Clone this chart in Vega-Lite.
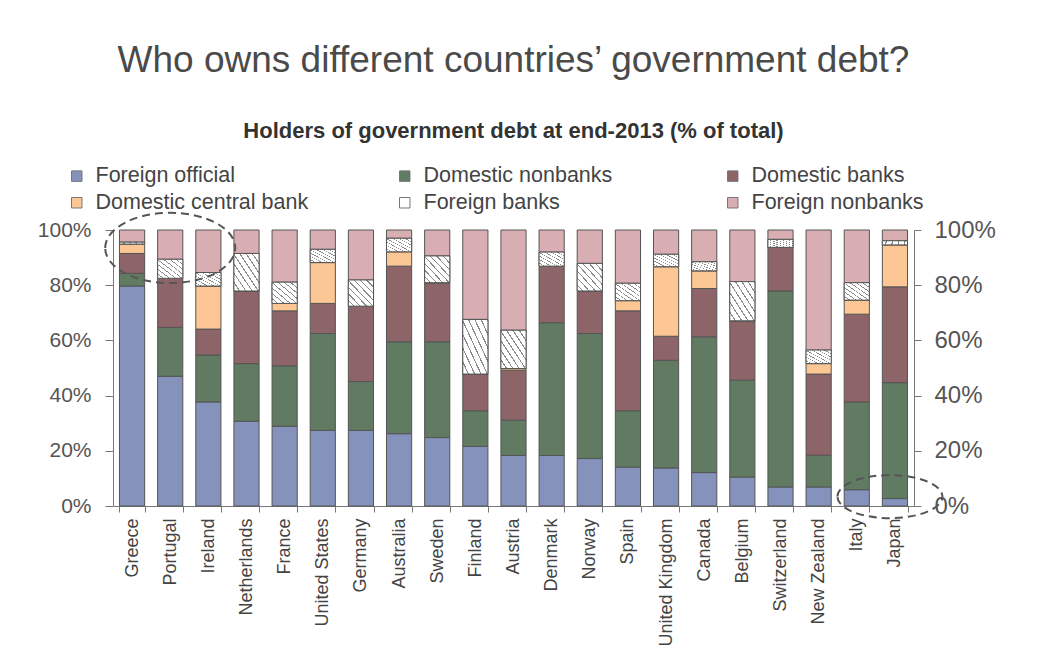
{
  "$schema": "https://vega.github.io/schema/vega-lite/v6.json",
  "autosize": {"type": "none"},
  "padding": {"left": 113, "top": 230, "right": 139, "bottom": 154},
  "width": 801,
  "height": 276,
  "background": "white",
  "title": {
    "text": "Who owns different countries’ government debt?",
    "subtitle": "Holders of government debt at end-2013 (% of total)",
    "anchor": "middle",
    "frame": "group",
    "offset": 22,
    "font": "Liberation Sans",
    "fontSize": 37,
    "fontWeight": "normal",
    "color": "#4a4a4a",
    "subtitleFont": "Liberation Sans",
    "subtitleFontSize": 22,
    "subtitleFontWeight": "bold",
    "subtitleColor": "#333333",
    "subtitlePadding": 41
  },
  "layer": [
    {
      "data": {
        "values": [
          {"country": "Greece", "Foreign official": 79.7, "Domestic nonbanks": 4.6, "Domestic banks": 7.2, "Domestic central bank": 3.4, "Foreign banks": 0.7, "Foreign nonbanks": 4.4},
          {"country": "Portugal", "Foreign official": 47.0, "Domestic nonbanks": 17.7, "Domestic banks": 17.8, "Domestic central bank": 0, "Foreign banks": 6.9, "Foreign nonbanks": 10.6},
          {"country": "Ireland", "Foreign official": 37.7, "Domestic nonbanks": 17.0, "Domestic banks": 9.4, "Domestic central bank": 15.6, "Foreign banks": 4.9, "Foreign nonbanks": 15.4},
          {"country": "Netherlands", "Foreign official": 30.7, "Domestic nonbanks": 20.9, "Domestic banks": 26.3, "Domestic central bank": 0, "Foreign banks": 13.6, "Foreign nonbanks": 8.5},
          {"country": "France", "Foreign official": 28.9, "Domestic nonbanks": 21.9, "Domestic banks": 19.9, "Domestic central bank": 2.7, "Foreign banks": 7.7, "Foreign nonbanks": 18.9},
          {"country": "United States", "Foreign official": 27.4, "Domestic nonbanks": 35.1, "Domestic banks": 10.9, "Domestic central bank": 14.8, "Foreign banks": 4.8, "Foreign nonbanks": 7.0},
          {"country": "Germany", "Foreign official": 27.4, "Domestic nonbanks": 17.7, "Domestic banks": 27.3, "Domestic central bank": 0, "Foreign banks": 9.5, "Foreign nonbanks": 18.1},
          {"country": "Australia", "Foreign official": 26.2, "Domestic nonbanks": 33.3, "Domestic banks": 27.4, "Domestic central bank": 5.2, "Foreign banks": 4.9, "Foreign nonbanks": 3.0},
          {"country": "Sweden", "Foreign official": 24.8, "Domestic nonbanks": 34.7, "Domestic banks": 21.4, "Domestic central bank": 0, "Foreign banks": 9.7, "Foreign nonbanks": 9.4},
          {"country": "Finland", "Foreign official": 21.6, "Domestic nonbanks": 12.9, "Domestic banks": 13.3, "Domestic central bank": 0, "Foreign banks": 19.8, "Foreign nonbanks": 32.4},
          {"country": "Austria", "Foreign official": 18.3, "Domestic nonbanks": 12.8, "Domestic banks": 18.1, "Domestic central bank": 0.6, "Foreign banks": 13.9, "Foreign nonbanks": 36.3},
          {"country": "Denmark", "Foreign official": 18.3, "Domestic nonbanks": 48.1, "Domestic banks": 20.5, "Domestic central bank": 0, "Foreign banks": 5.1, "Foreign nonbanks": 8.0},
          {"country": "Norway", "Foreign official": 17.2, "Domestic nonbanks": 45.3, "Domestic banks": 15.4, "Domestic central bank": 0, "Foreign banks": 10.0, "Foreign nonbanks": 12.1},
          {"country": "Spain", "Foreign official": 14.1, "Domestic nonbanks": 20.4, "Domestic banks": 36.2, "Domestic central bank": 3.7, "Foreign banks": 6.3, "Foreign nonbanks": 19.3},
          {"country": "United Kingdom", "Foreign official": 13.8, "Domestic nonbanks": 39.0, "Domestic banks": 8.7, "Domestic central bank": 25.2, "Foreign banks": 4.5, "Foreign nonbanks": 8.8},
          {"country": "Canada", "Foreign official": 12.1, "Domestic nonbanks": 49.2, "Domestic banks": 17.5, "Domestic central bank": 6.4, "Foreign banks": 3.3, "Foreign nonbanks": 11.5},
          {"country": "Belgium", "Foreign official": 10.5, "Domestic nonbanks": 35.1, "Domestic banks": 21.5, "Domestic central bank": 0, "Foreign banks": 14.2, "Foreign nonbanks": 18.7},
          {"country": "Switzerland", "Foreign official": 6.9, "Domestic nonbanks": 71.0, "Domestic banks": 15.8, "Domestic central bank": 0, "Foreign banks": 2.9, "Foreign nonbanks": 3.4},
          {"country": "New Zealand", "Foreign official": 6.9, "Domestic nonbanks": 11.5, "Domestic banks": 29.4, "Domestic central bank": 3.8, "Foreign banks": 4.9, "Foreign nonbanks": 43.5},
          {"country": "Italy", "Foreign official": 5.9, "Domestic nonbanks": 31.8, "Domestic banks": 31.8, "Domestic central bank": 5.1, "Foreign banks": 6.3, "Foreign nonbanks": 19.1},
          {"country": "Japan", "Foreign official": 2.7, "Domestic nonbanks": 42.0, "Domestic banks": 34.7, "Domestic central bank": 15.2, "Foreign banks": 1.5, "Foreign nonbanks": 3.9}
        ]
      },
      "transform": [
        {"fold": ["Foreign official", "Domestic nonbanks", "Domestic banks", "Domestic central bank", "Foreign banks", "Foreign nonbanks"], "as": ["holder", "value"]},
        {"calculate": "indexof(['Foreign official','Domestic nonbanks','Domestic banks','Domestic central bank','Foreign banks','Foreign nonbanks'], datum.holder)", "as": "ord"},
        {"stack": "value", "groupby": ["country"], "sort": [{"field": "ord", "order": "ascending"}], "as": ["y0", "y1"]}
      ],
      "layer": [
        {
          "mark": {"type": "bar", "stroke": "#555555", "strokeWidth": 1, "opacity": 1},
          "encoding": {
            "x": {
              "field": "country", "type": "nominal",
              "scale": {"domain": ["Greece", "Portugal", "Ireland", "Netherlands", "France", "United States", "Germany", "Australia", "Sweden", "Finland", "Austria", "Denmark", "Norway", "Spain", "United Kingdom", "Canada", "Belgium", "Switzerland", "New Zealand", "Italy", "Japan"], "paddingInner": 0.34, "paddingOuter": 0.17},
              "axis": {"title": null, "labelAngle": -90, "labelFont": "Liberation Sans", "labelFontSize": 18, "labelColor": "#444444", "tickBand": "extent", "tickSize": 6, "tickColor": "#777777", "domainColor": "#777777", "labelPadding": 6}
            },
            "y": {
              "field": "y0", "type": "quantitative",
              "scale": {"domain": [0, 100]},
              "axis": {"orient": "left", "title": null, "values": [0, 20, 40, 60, 80, 100], "labelExpr": "datum.value + '%'", "grid": false, "tickSize": 8, "labelPadding": 14, "labelFont": "Liberation Sans", "labelFontSize": 21, "labelColor": "#555555", "tickColor": "#777777", "domainColor": "#777777"}
            },
            "y2": {"field": "y1"},
            "color": {
              "field": "holder", "type": "nominal",
              "scale": {
                "domain": ["Foreign official", "Domestic nonbanks", "Domestic banks", "Domestic central bank", "Foreign banks", "Foreign nonbanks"],
                "range": ["#8592BB", "#607B61", "#8D6468", "#FCC794", "#FFFFFF", "#D9AEB2"]
              },
              "legend": {
                "orient": "none", "legendX": -47, "legendY": -65, "direction": "horizontal", "columns": 3,
                "title": null, "symbolType": "square", "symbolSize": 110, "symbolStrokeColor": "#777777", "symbolStrokeWidth": 1,
                "symbolOpacity": 1, "labelFont": "Liberation Sans", "labelFontSize": 21.5, "labelColor": "#444444",
                "labelOffset": 8, "columnPadding": 85, "rowPadding": 4, "gridAlign": "all", "labelLimit": 400
              }
            }
          }
        },
        {
          "transform": [{"filter": "datum.holder === 'Foreign banks'"}],
          "mark": {
            "type": "bar", "stroke": "#555555", "strokeWidth": 1,
            "color": {
              "gradient": "linear", "x1": 0, "y1": 1, "x2": 1, "y2": 0,
              "stops": [
                {"offset": 0, "color": "#ffffff"}, {"offset": 0.1, "color": "#ffffff"}, {"offset": 0.1, "color": "#8a8a8a"}, {"offset": 0.125, "color": "#8a8a8a"},
                {"offset": 0.125, "color": "#ffffff"}, {"offset": 0.225, "color": "#ffffff"}, {"offset": 0.225, "color": "#8a8a8a"}, {"offset": 0.25, "color": "#8a8a8a"},
                {"offset": 0.25, "color": "#ffffff"}, {"offset": 0.35, "color": "#ffffff"}, {"offset": 0.35, "color": "#8a8a8a"}, {"offset": 0.375, "color": "#8a8a8a"},
                {"offset": 0.375, "color": "#ffffff"}, {"offset": 0.475, "color": "#ffffff"}, {"offset": 0.475, "color": "#8a8a8a"}, {"offset": 0.5, "color": "#8a8a8a"},
                {"offset": 0.5, "color": "#ffffff"}, {"offset": 0.6, "color": "#ffffff"}, {"offset": 0.6, "color": "#8a8a8a"}, {"offset": 0.625, "color": "#8a8a8a"},
                {"offset": 0.625, "color": "#ffffff"}, {"offset": 0.725, "color": "#ffffff"}, {"offset": 0.725, "color": "#8a8a8a"}, {"offset": 0.75, "color": "#8a8a8a"},
                {"offset": 0.75, "color": "#ffffff"}, {"offset": 0.85, "color": "#ffffff"}, {"offset": 0.85, "color": "#8a8a8a"}, {"offset": 0.875, "color": "#8a8a8a"},
                {"offset": 0.875, "color": "#ffffff"}, {"offset": 0.975, "color": "#ffffff"}, {"offset": 0.975, "color": "#8a8a8a"}, {"offset": 1, "color": "#8a8a8a"}
              ]
            }
          },
          "encoding": {
            "x": {"field": "country", "type": "nominal"},
            "y": {
              "field": "y0", "type": "quantitative",
              "scale": {"domain": [0, 100]},
              "axis": {"orient": "right", "title": null, "values": [0, 20, 40, 60, 80, 100], "labelExpr": "datum.value + '%'", "grid": false, "tickSize": 7, "labelPadding": 13, "labelFont": "Liberation Sans", "labelFontSize": 24, "labelColor": "#555555", "tickColor": "#777777", "domainColor": "#777777"}
            },
            "y2": {"field": "y1"}
          }
        }
      ],
      "resolve": {"scale": {"y": "independent"}}
    },
    {
      "data": {"values": [{"country": "Portugal", "pct": 93.5}]},
      "mark": {"type": "point", "shape": "M-1,0A1,0.54,0,1,1,1,0A1,0.54,0,1,1,-1,0Z", "size": 16900, "filled": false, "stroke": "#555555", "strokeWidth": 2, "strokeDash": [8, 5], "opacity": 1},
      "encoding": {
        "x": {"field": "country", "type": "nominal", "scale": {"domain": ["Greece", "Portugal", "Ireland", "Netherlands", "France", "United States", "Germany", "Australia", "Sweden", "Finland", "Austria", "Denmark", "Norway", "Spain", "United Kingdom", "Canada", "Belgium", "Switzerland", "New Zealand", "Italy", "Japan"]}},
        "y": {"field": "pct", "type": "quantitative", "scale": {"domain": [0, 100]}, "axis": null}
      }
    },
    {
      "data": {"values": [{"country": "Japan", "pct": 3.4}]},
      "mark": {"type": "point", "shape": "M-1,0A1,0.41,0,1,1,1,0A1,0.41,0,1,1,-1,0Z", "size": 11025, "filled": false, "stroke": "#555555", "strokeWidth": 2, "strokeDash": [8, 5], "opacity": 1, "xOffset": -5},
      "encoding": {
        "x": {"field": "country", "type": "nominal", "scale": {"domain": ["Greece", "Portugal", "Ireland", "Netherlands", "France", "United States", "Germany", "Australia", "Sweden", "Finland", "Austria", "Denmark", "Norway", "Spain", "United Kingdom", "Canada", "Belgium", "Switzerland", "New Zealand", "Italy", "Japan"]}},
        "y": {"field": "pct", "type": "quantitative", "scale": {"domain": [0, 100]}, "axis": null}
      }
    }
  ],
  "resolve": {"scale": {"y": "independent"}},
  "config": {"view": {"stroke": null}}
}
